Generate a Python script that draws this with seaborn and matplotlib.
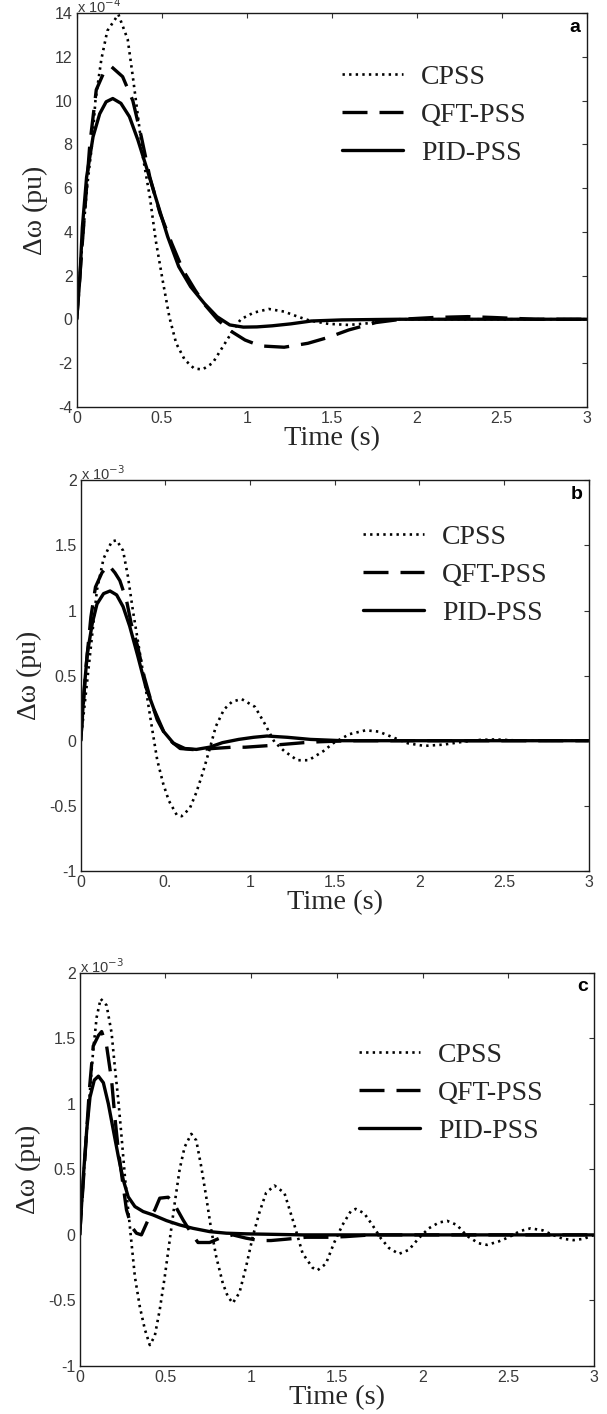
import numpy as np
import pandas as pd
import matplotlib
matplotlib.use("Agg")
import matplotlib.pyplot as plt
import seaborn as sns

# ==========================================
# DATA (units shown on the y axis)
# ==========================================
# panel a  (x 10^-4 pu)
A_CPSS_T = [0, 0.03, 0.06, 0.09, 0.11, 0.145, 0.18, 0.245, 0.30, 0.33, 0.36, 0.39, 0.43, 0.465, 0.505,
            0.545, 0.585, 0.635, 0.69, 0.74, 0.80, 0.86, 0.92, 0.965, 1.04, 1.13, 1.22, 1.30, 1.37, 1.48,
            1.60, 1.72, 1.80, 1.90, 2.2, 3.0]
A_CPSS_V = [0, 3.2, 6.0, 8.0, 10.0, 11.9, 13.2, 13.95, 12.8, 11.1, 9.3, 7.4, 5.6, 3.6, 1.8,
            0.1, -1.1, -1.85, -2.25, -2.3, -2.0, -1.25, -0.5, 0.0, 0.3, 0.47, 0.35, 0.12, -0.06, -0.21,
            -0.26, -0.18, -0.06, 0.0, 0.0, 0.0]
A_QFT_T = [0, 0.033, 0.077, 0.115, 0.16, 0.205, 0.27, 0.33, 0.38, 0.43, 0.49, 0.56, 0.625, 0.695, 0.755,
           0.83, 0.91, 0.99, 1.08, 1.22, 1.36, 1.48, 1.60, 1.76, 1.91, 2.10, 2.30, 2.45, 2.7, 3.0]
A_QFT_V = [0, 3.5, 8.0, 10.5, 11.3, 11.55, 11.1, 10.0, 8.35, 6.5, 4.85, 3.45, 2.25, 1.35, 0.65,
           -0.03, -0.56, -0.95, -1.22, -1.28, -1.1, -0.83, -0.49, -0.15, 0.0, 0.08, 0.12, 0.08, 0.0, 0.0]
A_PID_T = [0, 0.019, 0.033, 0.058, 0.096, 0.135, 0.173, 0.212, 0.26, 0.31, 0.36, 0.415, 0.475, 0.535,
           0.60, 0.67, 0.75, 0.825, 0.90, 0.98, 1.06, 1.15, 1.26, 1.38, 1.56, 1.9, 3.0]
A_PID_V = [0, 1.95, 4.2, 6.5, 8.35, 9.4, 9.95, 10.1, 9.88, 9.27, 8.2, 6.83, 5.3, 3.78,
           2.41, 1.49, 0.73, 0.12, -0.26, -0.36, -0.35, -0.3, -0.21, -0.08, -0.03, 0.0, 0.0]

# panel b  (x 10^-3 pu)
B_CPSS_T = [0, 0.035, 0.068, 0.096, 0.135, 0.183, 0.212, 0.25, 0.279, 0.308, 0.337, 0.366, 0.395, 0.423,
            0.452, 0.487, 0.52, 0.567, 0.596, 0.644, 0.682, 0.72, 0.76, 0.798, 0.846, 0.894, 0.95, 1.029,
            1.087, 1.144, 1.202, 1.279, 1.346, 1.433, 1.49, 1.586, 1.683, 1.759, 1.836, 1.932, 2.029,
            2.144, 2.221, 2.336, 2.45, 2.6, 3.0]
B_CPSS_V = [0, 0.42, 0.82, 1.16, 1.40, 1.53, 1.54, 1.46, 1.26, 1.0, 0.77, 0.54, 0.31, 0.08,
            -0.15, -0.33, -0.46, -0.57, -0.58, -0.52, -0.40, -0.25, -0.07, 0.11, 0.24, 0.30, 0.32, 0.26,
            0.13, -0.01, -0.08, -0.15, -0.15, -0.08, -0.02, 0.05, 0.08, 0.07, 0.03, -0.02, -0.04,
            -0.03, -0.015, 0.005, 0.01, 0.0, 0.0]
B_QFT_T = [0, 0.03, 0.06, 0.087, 0.125, 0.164, 0.202, 0.231, 0.27, 0.298, 0.337, 0.375, 0.414, 0.452,
           0.51, 0.587, 0.683, 0.779, 0.894, 0.971, 1.106, 1.317, 1.413, 1.6, 3.0]
B_QFT_V = [0, 0.55, 0.95, 1.18, 1.29, 1.35, 1.29, 1.23, 1.08, 0.90, 0.72, 0.49, 0.31, 0.16,
           0.02, -0.06, -0.07, -0.06, -0.05, -0.05, -0.038, -0.015, -0.008, 0.0, 0.0]
B_PID_T = [0, 0.02, 0.039, 0.068, 0.096, 0.135, 0.173, 0.212, 0.25, 0.289, 0.337, 0.385, 0.433, 0.49,
           0.548, 0.615, 0.683, 0.76, 0.837, 0.933, 1.02, 1.1, 1.221, 1.356, 1.548, 3.0]
B_PID_V = [0, 0.39, 0.67, 0.90, 1.05, 1.13, 1.15, 1.12, 1.03, 0.88, 0.65, 0.41, 0.24, 0.07,
           -0.02, -0.06, -0.067, -0.05, -0.015, 0.01, 0.026, 0.036, 0.026, 0.01, 0.0, 0.0]

# panel c  (x 10^-3 pu)
C_CPSS_T = [0, 0.03, 0.06, 0.079, 0.099, 0.122, 0.157, 0.186, 0.205, 0.225, 0.244, 0.264, 0.283, 0.302,
            0.322, 0.351, 0.38, 0.409, 0.438, 0.467, 0.496, 0.525, 0.554, 0.583, 0.612, 0.651, 0.68,
            0.709, 0.738, 0.767, 0.797, 0.835, 0.864, 0.893, 0.932, 0.971, 1.01, 1.048, 1.087, 1.136,
            1.194, 1.252, 1.3, 1.358, 1.387, 1.436, 1.484, 1.533, 1.581, 1.61, 1.659, 1.707, 1.756,
            1.804, 1.862, 1.92, 1.978, 2.036, 2.095, 2.143, 2.2, 2.259, 2.327, 2.376, 2.444, 2.502,
            2.57, 2.63, 2.7, 2.76, 2.82, 2.88, 2.94, 3.0]
C_CPSS_V = [0, 0.6, 1.10, 1.41, 1.66, 1.80, 1.75, 1.54, 1.28, 1.03, 0.75, 0.44, 0.19, -0.06,
            -0.32, -0.55, -0.72, -0.84, -0.77, -0.57, -0.32, -0.04, 0.24, 0.50, 0.67, 0.77, 0.72,
            0.52, 0.29, 0.04, -0.17, -0.37, -0.47, -0.52, -0.44, -0.24, -0.01, 0.17, 0.32, 0.376,
            0.32, 0.076, -0.14, -0.25, -0.27, -0.22, -0.06, 0.076, 0.18, 0.198, 0.165, 0.076, -0.025,
            -0.10, -0.145, -0.114, -0.025, 0.05, 0.094, 0.107, 0.076, -0.008, -0.064, -0.076, -0.05, -0.018,
            0.03, 0.05, 0.035, 0.0, -0.03, -0.04, -0.03, 0.0]
C_QFT_T = [0, 0.031, 0.056, 0.079, 0.109, 0.128, 0.157, 0.186, 0.205, 0.225, 0.254, 0.273, 0.302, 0.331,
           0.36, 0.399, 0.438, 0.467, 0.516, 0.554, 0.603, 0.651, 0.69, 0.758, 0.816, 0.893, 0.971,
           1.048, 1.116, 1.203, 1.32, 1.456, 1.552, 1.7, 3.0]
C_QFT_V = [0, 0.60, 1.10, 1.44, 1.52, 1.55, 1.44, 1.18, 0.90, 0.65, 0.37, 0.19, 0.064, 0.013,
           0.0, 0.114, 0.19, 0.28, 0.287, 0.229, 0.114, 0.013, -0.058, -0.058, -0.025, 0.0, -0.025,
           -0.043, -0.043, -0.033, -0.018, -0.018, -0.013, 0.0, 0.0]
C_PID_T = [0, 0.021, 0.041, 0.06, 0.085, 0.109, 0.138, 0.167, 0.196, 0.225, 0.254, 0.283, 0.322, 0.37,
           0.428, 0.506, 0.583, 0.661, 0.758, 0.855, 0.971, 1.3, 3.0]
C_PID_V = [0, 0.44, 0.80, 1.05, 1.18, 1.21, 1.16, 1.0, 0.80, 0.60, 0.42, 0.29, 0.216, 0.178,
           0.152, 0.109, 0.076, 0.05, 0.025, 0.013, 0.008, 0.0, 0.0]

CONTROLLERS = ["CPSS", "QFT-PSS", "PID-PSS"]
PANEL_LETTERS = ["a", "b", "c"]
X_TICKS = [0, 0.5, 1, 1.5, 2, 2.5, 3]
X_TICKLABELS = [["0", "0.5", "1", "1.5", "2", "2.5", "3"],
                ["0", "0.", "1", "1.5", "2", "2.5", "3"],
                ["0", "0.5", "1", "1.5", "2", "2.5", "3"]]
Y_TICKS = [list(range(-4, 15, 2)), [-1, -0.5, 0, 0.5, 1, 1.5, 2], [-1, -0.5, 0, 0.5, 1, 1.5, 2]]
Y_TICKLABELS = [[str(v) for v in Y_TICKS[0]],
                ["-1", "-0.5", "0", "0.5", "1", "1.5", "2"],
                ["-1", "-0.5", "0", "0.5", "1", "1.5", "2"]]
EXPONENTS = ["-4", "-3", "-3"]

PANELS = [
    {"CPSS": (A_CPSS_T, A_CPSS_V), "QFT-PSS": (A_QFT_T, A_QFT_V), "PID-PSS": (A_PID_T, A_PID_V)},
    {"CPSS": (B_CPSS_T, B_CPSS_V), "QFT-PSS": (B_QFT_T, B_QFT_V), "PID-PSS": (B_PID_T, B_PID_V)},
    {"CPSS": (C_CPSS_T, C_CPSS_V), "QFT-PSS": (C_QFT_T, C_QFT_V), "PID-PSS": (C_PID_T, C_PID_V)},
]

# ==========================================
# STYLE
# ==========================================
sns.set_theme(style="white")
plt.rcParams["font.family"] = ["Liberation Sans", "DejaVu Sans"]
plt.rcParams.update({
    "xtick.direction": "in", "ytick.direction": "in",
    "xtick.top": True, "ytick.right": True,
    "xtick.major.size": 3.5, "ytick.major.size": 3.5,
    "xtick.major.width": 0.8, "ytick.major.width": 0.8,
    "axes.edgecolor": "#1a1a1a", "axes.linewidth": 1.0,
})

SERIF = ["Liberation Serif", "DejaVu Serif"]
LINE_STYLE = {
    "CPSS":    dict(linestyle=(0, (0.9, 1.6)), lw=1.9),
    "QFT-PSS": dict(linestyle=(0, (7.5, 3.6)), lw=2.4),
    "PID-PSS": dict(linestyle="-", lw=2.4),
}

# axes boxes in figure fractions [left, bottom, width, height]
AX_POS = [
    [0.1264, 0.7124, 0.8402, 0.2782],
    [0.1330, 0.3841, 0.8369, 0.2762],
    [0.1313, 0.0339, 0.8473, 0.2783],
]
LEGEND_ANCHOR = [(0.52, 0.87), (0.556, 0.887), (0.543, 0.822)]

fig = plt.figure(figsize=(6.07, 14.14), dpi=100)

for i, panel in enumerate(PANELS):
    ax = fig.add_axes(AX_POS[i])
    for name in CONTROLLERS:
        t, v = panel[name]
        df = pd.DataFrame({"Time": t, "dw": v})
        sns.lineplot(data=df, x="Time", y="dw", ax=ax, color="black", estimator=None,
                     label=name, **LINE_STYLE[name])

    ax.set_xlim(0, 3)
    ax.set_ylim(Y_TICKS[i][0], Y_TICKS[i][-1])
    ax.set_xticks(X_TICKS)
    ax.set_xticklabels(X_TICKLABELS[i])
    ax.set_yticks(Y_TICKS[i])
    ax.set_yticklabels(Y_TICKLABELS[i])
    ax.tick_params(labelsize=11.5, labelcolor="#3a3a3a", color="#333333", pad=3)

    ax.set_xlabel("Time (s)", family=SERIF, fontsize=20.5, labelpad=0)
    ax.set_ylabel("Δω (pu)", family=SERIF, fontsize=20, labelpad=5)

    # MATLAB style exponent at the top left
    ax.text(0.0, 1.0, "x 10$^{%s}$" % EXPONENTS[i], transform=ax.transAxes,
            ha="left", va="baseline", fontsize=10.5, color="#3a3a3a")

    ax.text(0.988, 0.965, PANEL_LETTERS[i], transform=ax.transAxes, ha="right", va="center",
            fontsize=14, fontweight="bold", color="black")

    handles, labels = ax.get_legend_handles_labels()
    ax.legend(handles, labels, loc="upper left", bbox_to_anchor=LEGEND_ANCHOR[i], frameon=False,
              prop={"family": SERIF, "size": 20}, handlelength=2.2, handletextpad=0.65,
              labelspacing=0.45, borderpad=0, borderaxespad=0)

fig.savefig("out.png", dpi=100)
